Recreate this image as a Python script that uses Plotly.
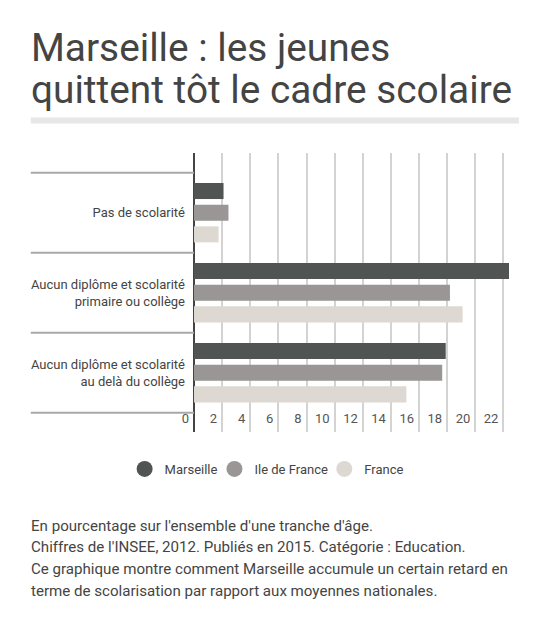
import plotly.graph_objects as go

categories = ["Pas de scolarité",
              "Aucun diplôme et scolarité<br>primaire ou collège",
              "Aucun diplôme et scolarité<br>au delà du collège"]
series_names = ["Marseille", "Ile de France", "France"]
marseille = [2.1, 22.4, 17.9]
ile_de_france = [2.45, 18.2, 17.65]
france = [1.75, 19.1, 15.1]
series_values = [marseille, ile_de_france, france]
colors = ["#505453", "#999695", "#ddd9d2"]

title_lines = ["Marseille : les jeunes", "quittent tôt le cadre scolaire"]
footer_lines = [
    "En pourcentage sur l'ensemble d'une tranche d'âge.",
    "Chiffres de l'INSEE, 2012. Publiés en 2015. Catégorie : Education.",
    "Ce graphique montre comment Marseille accumule un certain retard en",
    "terme de scolarisation par rapport aux moyennes nationales.",
]

W, H = 548, 630
L, R, T, B = 193.5, 39, 153, 198
PW, PH = W - L - R, H - T - B


def px(x):
    return (x - L) / PW


def py(y):
    return (H - B - y) / PH


legend_ids = ["legend", "legend2", "legend3"]
legend_circle_x = [144, 234, 344]

fig = go.Figure()
for name, vals, col in zip(series_names, series_values, colors):
    fig.add_trace(go.Bar(y=categories, x=vals, name=name, orientation="h",
                         marker=dict(color=col, line=dict(width=0)),
                         showlegend=False, hoverinfo="x+name"))
for name, col, lid in zip(series_names, colors, legend_ids):
    fig.add_trace(go.Scatter(x=[None], y=[None], mode="markers", name=name,
                             legend=lid,
                             marker=dict(color=col, size=16, symbol="circle")))

shapes = []
for i in range(len(categories) + 1):
    shapes.append(dict(type="line", xref="paper", yref="y",
                       x0=px(30), x1=0, y0=i - 0.5, y1=i - 0.5,
                       line=dict(color="#a8a8a8", width=2)))
shapes.append(dict(type="rect", xref="paper", yref="paper",
                   x0=px(30), x1=px(519), y0=py(123.5), y1=py(117.5),
                   fillcolor="#e7e7e7", line=dict(width=0)))

annotations = []
for line, yc in zip(title_lines, [47.5, 89.5]):
    annotations.append(dict(text=line, xref="paper", yref="paper",
                            x=px(28), y=py(yc), xanchor="left", yanchor="middle",
                            showarrow=False,
                            font=dict(family="Roboto", size=38.8, color="#444444")))
for line, yc in zip(footer_lines, [525.5, 547, 568.5, 590.5]):
    annotations.append(dict(text=line, xref="paper", yref="paper",
                            x=px(28), y=py(yc), xanchor="left", yanchor="middle",
                            showarrow=False,
                            font=dict(family="Roboto", size=15.1, color="#444444")))

legend_common = dict(xanchor="left", yanchor="middle", y=py(469),
                     font=dict(size=13, color="#444444"), itemsizing="trace",
                     bgcolor="rgba(0,0,0,0)", borderwidth=0)
legends = {lid: dict(x=px(cx - 20), **legend_common)
           for lid, cx in zip(legend_ids, legend_circle_x)}

fig.update_layout(
    width=W, height=H,
    margin=dict(l=L, r=R, t=T, b=B, pad=0),
    paper_bgcolor="white", plot_bgcolor="white",
    barmode="group", bargap=0.1875, bargroupgap=0.26,
    font=dict(family="Roboto", color="#444444", size=13),
    showlegend=True,
    shapes=shapes,
    annotations=annotations,
    **legends,
)
fig.update_xaxes(range=[0, 22.4], dtick=2, tick0=0, showgrid=True,
                 gridcolor="#d3d3d3", gridwidth=2,
                 zeroline=True, zerolinecolor="#444444", zerolinewidth=2,
                 showline=False, ticks="", ticklabelposition="inside left",
                 ticklabeloverflow="allow", ticklabelshift=-5,
                 tickfont=dict(size=13, color="#555555"), fixedrange=True)
fig.update_yaxes(range=[2.741, -0.746], showgrid=False, zeroline=False,
                 showline=False, ticks="", ticklabelstandoff=8,
                 tickfont=dict(size=13, color="#444444"), fixedrange=True)

fig.write_html("out.html", config={"displayModeBar": False})
